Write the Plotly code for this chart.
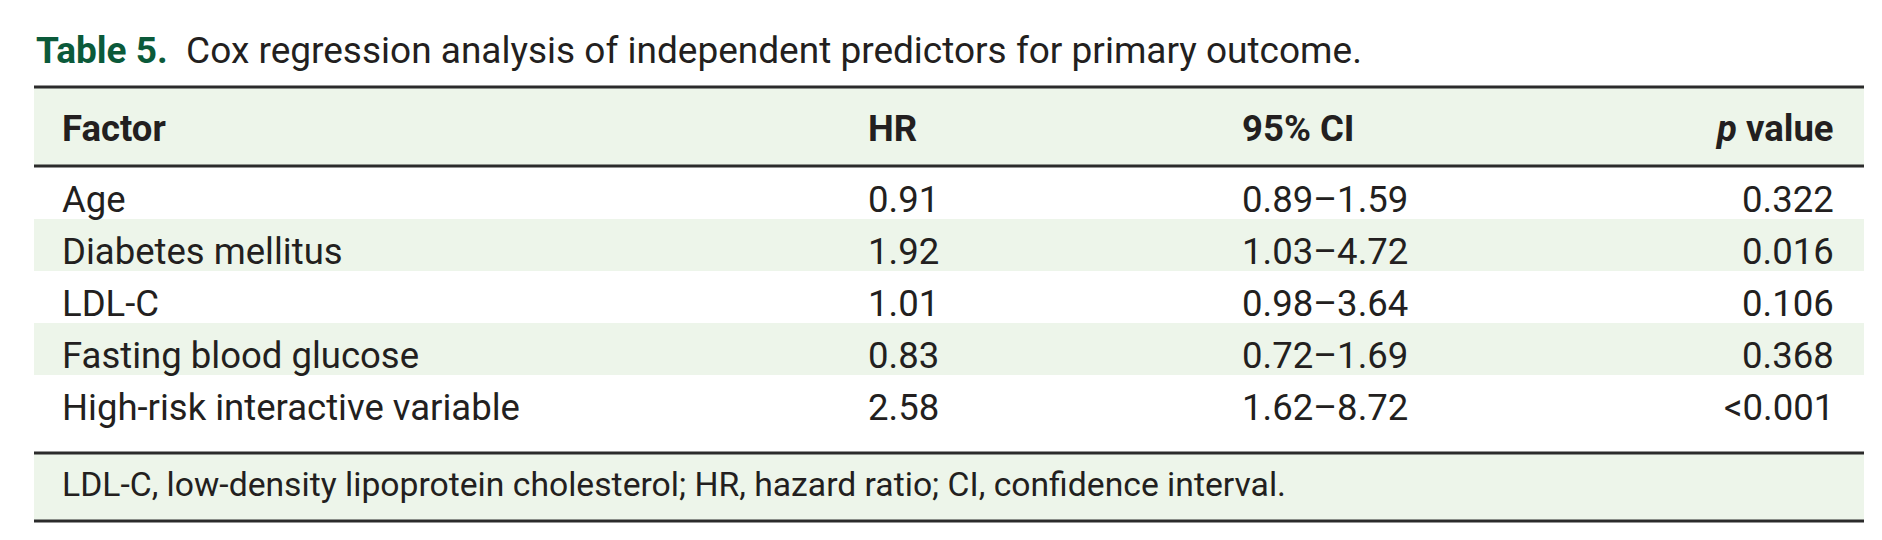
import plotly.graph_objects as go

W, H = 1882, 540

# --- datos de la tabla ---
caption_label = "Table 5."
caption_text = "Cox regression analysis of independent predictors for primary outcome."
headers = ["Factor", "HR", "95% CI", "<i>p</i> value"]
factors = ["Age", "Diabetes mellitus", "LDL-C", "Fasting blood glucose",
           "High-risk interactive variable"]
hr = ["0.91", "1.92", "1.01", "0.83", "2.58"]
ci = ["0.89–1.59", "1.03–4.72", "0.98–3.64", "0.72–1.69", "1.62–8.72"]
p_values = ["0.322", "0.016", "0.106", "0.368", "&lt;0.001"]
footnote = "LDL-C, low-density lipoprotein cholesterol; HR, hazard ratio; CI, confidence interval."

GREEN = '#0b5a3a'
SHADE = '#edf5ea'
INK = '#231f20'
LINE = '#2b2b2b'
FONT = "Roboto"
SIZE = 36.5

# geometria (px)
LEFT, RIGHT = 26, 1856
TOP_LINE, HEAD_LINE = 79, 158
ROW_TOP, ROW_H = 159, 52
FOOT_TOP, FOOT_BOT = 445, 513
COL_X = [52, 858, 1232, 1828]
COL_ANCHOR = ['left', 'left', 'left', 'right']

fig = go.Figure()
shapes = []
annotations = []

# fondo de cabecera y pie
shapes.append(dict(type='rect', x0=LEFT, x1=RIGHT, y0=TOP_LINE, y1=HEAD_LINE,
                   fillcolor=SHADE, line_width=0, layer='below'))
shapes.append(dict(type='rect', x0=LEFT, x1=RIGHT, y0=FOOT_TOP, y1=FOOT_BOT,
                   fillcolor=SHADE, line_width=0, layer='below'))

# filas sombreadas alternas
for i in range(len(factors)):
    if i % 2 == 1:
        shapes.append(dict(type='rect', x0=LEFT, x1=RIGHT,
                           y0=ROW_TOP + i * ROW_H, y1=ROW_TOP + (i + 1) * ROW_H,
                           fillcolor=SHADE, line_width=0, layer='below'))

# lineas horizontales
for y in [TOP_LINE, HEAD_LINE, FOOT_TOP, FOOT_BOT]:
    shapes.append(dict(type='line', x0=LEFT, x1=RIGHT, y0=y, y1=y,
                       line=dict(color=LINE, width=2.8)))

# titulo
annotations.append(dict(x=LEFT, y=42, xanchor='left', yanchor='middle', showarrow=False,
                        text=f"<span style='color:{GREEN}'><b>{caption_label}</b></span>  {caption_text}",
                        font=dict(family=FONT, size=37, color=INK)))

# cabecera
for j, h in enumerate(headers):
    annotations.append(dict(x=COL_X[j], y=(TOP_LINE + HEAD_LINE) / 2 + 2, xanchor=COL_ANCHOR[j],
                            yanchor='middle', showarrow=False, text=f"<b>{h}</b>",
                            font=dict(family=FONT, size=SIZE, color=INK)))

# cuerpo
columns = [factors, hr, ci, p_values]
for i in range(len(factors)):
    yc = ROW_TOP + i * ROW_H + ROW_H / 2 + 6
    for j, col in enumerate(columns):
        annotations.append(dict(x=COL_X[j], y=yc, xanchor=COL_ANCHOR[j], yanchor='middle',
                                showarrow=False, text=col[i],
                                font=dict(family=FONT, size=SIZE, color=INK)))

# nota al pie
annotations.append(dict(x=COL_X[0], y=(FOOT_TOP + FOOT_BOT) / 2 - 3, xanchor='left', yanchor='middle',
                        showarrow=False, text=footnote,
                        font=dict(family=FONT, size=33.7, color=INK)))

fig.update_layout(
    width=W, height=H,
    margin=dict(l=0, r=0, t=0, b=0),
    paper_bgcolor='white', plot_bgcolor='white',
    xaxis=dict(range=[0, W], visible=False, fixedrange=True),
    yaxis=dict(range=[H, 0], visible=False, fixedrange=True),
    shapes=shapes, annotations=annotations, showlegend=False,
)

fig.write_html("out.html")
